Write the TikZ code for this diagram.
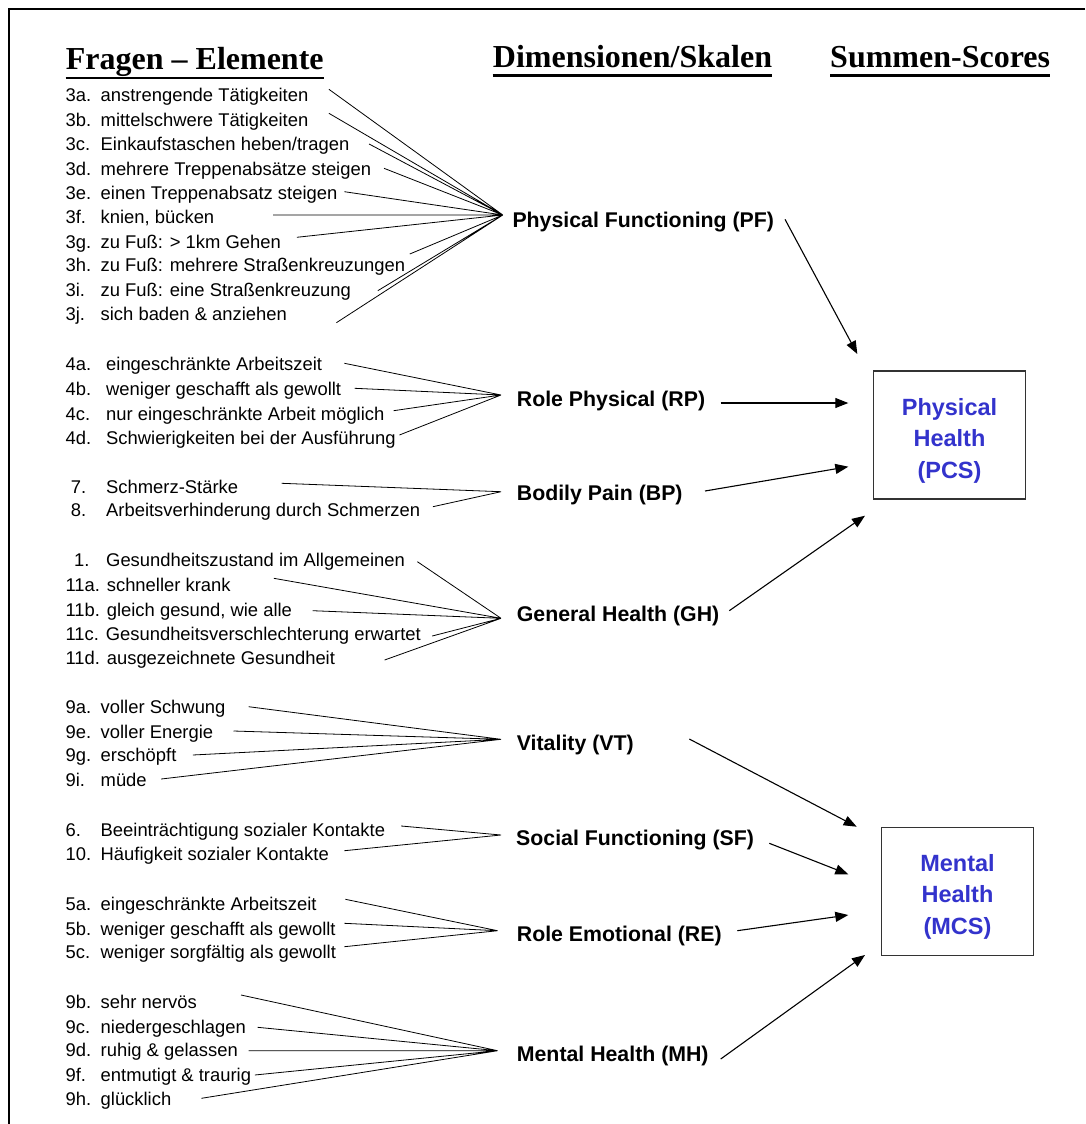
\documentclass[tikz,border=0pt]{standalone}
\usepackage{fontspec}
\setmainfont{Liberation Sans}
\newfontfamily\headfont{Liberation Serif}
\usetikzlibrary{arrows.meta}
\definecolor{scoreblue}{RGB}{51,51,204}
\newcommand{\nr}[2][35.1pt]{\makebox[#1][l]{#2}}

\begin{document}
\begin{tikzpicture}[x=1pt,y=-1pt,
		item/.style={anchor=base west,inner sep=0pt,font=\fontsize{18.4}{22}\selectfont},
		dim/.style={anchor=base west,inner sep=0pt,font=\bfseries\fontsize{21.3}{25}\selectfont},
		head/.style={anchor=base west,inner sep=0pt,font=\headfont\bfseries\fontsize{32}{36}\selectfont},
		uline/.style={line width=2.4pt},
		sumbox/.style={draw=black!80,line width=1.2pt,minimum width=152.4pt,minimum height=128pt,
			inner sep=0pt,align=center,text=scoreblue,font=\bfseries\fontsize{23.5}{31.5}\selectfont},
		iline/.style={line width=0.8pt},
		marrow/.style={-{Triangle[length=13pt,width=10pt]},line width=1.1pt}]
		\useasboundingbox (0,0) rectangle (1085,1124);
		% frame
		\draw[line width=2pt] (1085,9) -- (9,9) -- (9,1124);

		% headings
		\node[head] (fe) at (65.7,69.5) {Fragen – Elemente};
		\node[head] (ds) at (492.7,67) {Dimensionen/Skalen};
		\node[head] (ss) at (830,67) {Summen-Scores};
		\draw[uline] ([yshift=-8.5pt]fe.base west) -- ([yshift=-8.5pt]fe.base east);
		\draw[uline] ([yshift=-8.5pt]ds.base west) -- ([yshift=-8.5pt]ds.base east);
		\draw[uline] ([yshift=-8.5pt]ss.base west) -- ([yshift=-8.5pt]ss.base east);

		% physical functioning
		\node[item] (q3a) at (65.4,101.7) {\nr{3a.}anstrengende Tätigkeiten};
		\node[item] (q3b) at (65.4,126) {\nr{3b.}mittelschwere Tätigkeiten};
		\node[item] (q3c) at (65.4,150.7) {\nr{3c.}Einkaufstaschen heben/tragen};
		\node[item] (q3d) at (65.4,175) {\nr{3d.}mehrere Treppenabsätze steigen};
		\node[item] (q3e) at (65.4,199.3) {\nr{3e.}einen Treppenabsatz steigen};
		\node[item] (q3f) at (65.4,223.3) {\nr{3f.}knien, bücken};
		\node[item] (q3g) at (65.4,248.3) {\nr{3g.}zu Fuß: > 1km Gehen};
		\node[item] (q3h) at (65.4,271.7) {\nr{3h.}zu Fuß: mehrere Straßenkreuzungen};
		\node[item] (q3i) at (65.4,296.7) {\nr{3i.}zu Fuß: eine Straßenkreuzung};
		\node[item] (q3j) at (65.4,320.7) {\nr{3j.}sich baden \& anziehen};
		\node[dim] (pf) at (512.3,227.7) {Physical Functioning (PF)};

		% role physical
		\node[item] (q4a) at (65.4,370) {\nr[40.6pt]{4a.}eingeschränkte Arbeitszeit};
		\node[item] (q4b) at (65.4,395) {\nr[40.6pt]{4b.}weniger geschafft als gewollt};
		\node[item] (q4c) at (65.4,420) {\nr[40.6pt]{4c.}nur eingeschränkte Arbeit möglich};
		\node[item] (q4d) at (65.4,444) {\nr[40.6pt]{4d.}Schwierigkeiten bei der Ausführung};
		\node[dim] (rp) at (516.7,406) {Role Physical (RP)};

		% bodily pain
		\node[item] (q7) at (70.6,493.3) {\nr[35.4pt]{7.}Schmerz-Stärke};
		\node[item] (q8) at (70.6,516.7) {\nr[35.4pt]{8.}Arbeitsverhinderung durch Schmerzen};
		\node[dim] (bp) at (516.7,500) {Bodily Pain (BP)};

		% general health
		\node[item] (q1) at (74,566.7) {\nr[32pt]{1.}Gesundheitszustand im Allgemeinen};
		\node[item] (q11a) at (65.4,591.7) {11a. schneller krank};
		\node[item] (q11b) at (65.4,616) {11b. gleich gesund, wie alle};
		\node[item] (q11c) at (65.4,640) {11c. Gesundheitsverschlechterung erwartet};
		\node[item] (q11d) at (65.4,664) {11d. ausgezeichnete Gesundheit};
		\node[dim] (gh) at (516.7,621.7) {General Health (GH)};

		% vitality
		\node[item] (q9a) at (65.4,713.3) {\nr{9a.}voller Schwung};
		\node[item] (q9e) at (65.4,738.3) {\nr{9e.}voller Energie};
		\node[item] (q9g) at (65.4,761.7) {\nr{9g.}erschöpft};
		\node[item] (q9i) at (65.4,786.7) {\nr{9i.}müde};
		\node[dim] (vt) at (516.7,750) {Vitality (VT)};

		% social functioning
		\node[item] (q6) at (65.4,836.7) {\nr{6.}Beeinträchtigung sozialer Kontakte};
		\node[item] (q10) at (65.4,860) {\nr{10.}Häufigkeit sozialer Kontakte};
		\node[dim] (sf) at (516,845) {Social Functioning (SF)};

		% role emotional
		\node[item] (q5a) at (65.4,910) {\nr{5a.}eingeschränkte Arbeitszeit};
		\node[item] (q5b) at (65.4,935) {\nr{5b.}weniger geschafft als gewollt};
		\node[item] (q5c) at (65.4,958.3) {\nr{5c.}weniger sorgfältig als gewollt};
		\node[dim] (re) at (516.7,941.7) {Role Emotional (RE)};

		% mental health
		\node[item] (q9b) at (65.4,1008.3) {\nr{9b.}sehr nervös};
		\node[item] (q9c) at (65.4,1033.3) {\nr{9c.}niedergeschlagen};
		\node[item] (q9d) at (65.4,1056.7) {\nr{9d.}ruhig \& gelassen};
		\node[item] (q9f) at (65.4,1081.7) {\nr{9f.}entmutigt \& traurig};
		\node[item] (q9h) at (65.4,1105) {\nr{9h.}glücklich};
		\node[dim] (mh) at (516.7,1061.7) {Mental Health (MH)};

		% summary scores
		\node[sumbox] (pcs) at (949.5,435) {\rule{0pt}{28pt}Physical\\Health\\(PCS)};
		\node[sumbox] (mcs) at (957.5,891.2) {\rule{0pt}{28pt}Mental\\Health\\(MCS)};

		% line ends
		\path (502.8,215) coordinate (pfin) (501,395) coordinate (rpin)
			(501,491.7) coordinate (bpin) (501,618.3) coordinate (ghin)
			(501,739.3) coordinate (vtin) (501,835) coordinate (sfin)
			(497.6,930.7) coordinate (rein) (497.6,1050.7) coordinate (mhin);
		\path (328.9,89.3) coordinate (a3a) (328.9,113.3) coordinate (a3b)
			(369.1,144) coordinate (a3c) (384,168.3) coordinate (a3d)
			(344.4,191.7) coordinate (a3e) (273.1,215) coordinate (a3f)
			(296.8,237.3) coordinate (a3g) (409.8,254) coordinate (a3h)
			(377.8,290.7) coordinate (a3i) (336.4,322.7) coordinate (a3j);
		\path (344.4,363.3) coordinate (a4a) (354.7,388.3) coordinate (a4b)
			(393.6,410.7) coordinate (a4c) (399.4,435) coordinate (a4d)
			(281.7,483.3) coordinate (a7) (432.9,506.7) coordinate (a8);
		\path (417.4,561.7) coordinate (a1) (273.8,578.3) coordinate (a11a)
			(312.7,610.7) coordinate (a11b) (432.2,636) coordinate (a11c)
			(384.6,660) coordinate (a11d);
		\path (248.6,706.7) coordinate (a9a) (233.5,731) coordinate (a9e)
			(192.8,755) coordinate (a9g) (161.2,779) coordinate (a9i)
			(401.2,826) coordinate (a6) (344.4,850.7) coordinate (a10);
		\path (345.4,899.3) coordinate (a5a) (344.4,923.3) coordinate (a5b)
			(344.4,946.7) coordinate (a5c);
		\path (241,995) coordinate (a9b) (257.6,1027.3) coordinate (a9c)
			(248.6,1050.7) coordinate (a9d) (254.8,1075) coordinate (a9f)
			(201.4,1098.3) coordinate (a9h);

		% connection items - scales
		\draw[iline] (a3a) -- (pfin) (a3b) -- (pfin) (a3c) -- (pfin) (a3d) -- (pfin)
			(a3e) -- (pfin) (a3f) -- (pfin) (a3g) -- (pfin) (a3h) -- (pfin)
			(a3i) -- (pfin) (a3j) -- (pfin);
		\draw[iline] (a4a) -- (rpin) (a4b) -- (rpin) (a4c) -- (rpin) (a4d) -- (rpin);
		\draw[iline] (a7) -- (bpin) (a8) -- (bpin);
		\draw[iline] (a1) -- (ghin) (a11a) -- (ghin) (a11b) -- (ghin) (a11c) -- (ghin) (a11d) -- (ghin);
		\draw[iline] (a9a) -- (vtin) (a9e) -- (vtin) (a9g) -- (vtin) (a9i) -- (vtin);
		\draw[iline] (a6) -- (sfin) (a10) -- (sfin);
		\draw[iline] (a5a) -- (rein) (a5b) -- (rein) (a5c) -- (rein);
		\draw[iline] (a9b) -- (mhin) (a9c) -- (mhin) (a9d) -- (mhin) (a9f) -- (mhin) (a9h) -- (mhin);

		% connection scales - scores
		\path (785,219.3) coordinate (pfout) (720.7,403) coordinate (rpout)
			(705,491) coordinate (bpout) (729.3,610.7) coordinate (ghout)
			(689.3,739) coordinate (vtout) (769.3,843.3) coordinate (sfout)
			(737.3,930.7) coordinate (reout) (720.7,1059) coordinate (mhout);
		\path (857.3,354) coordinate (pcs1) (848.3,403) coordinate (pcs2)
			(848.3,466.7) coordinate (pcs3) (865,515.7) coordinate (pcs4)
			(856.7,826.7) coordinate (mcs1) (848.3,874.3) coordinate (mcs2)
			(848.3,915) coordinate (mcs3) (865,955) coordinate (mcs4);
		\draw[marrow] (pfout) -- (pcs1);
		\draw[marrow] (rpout) -- (pcs2);
		\draw[marrow] (bpout) -- (pcs3);
		\draw[marrow] (ghout) -- (pcs4);
		\draw[marrow] (vtout) -- (mcs1);
		\draw[marrow] (sfout) -- (mcs2);
		\draw[marrow] (reout) -- (mcs3);
		\draw[marrow] (mhout) -- (mcs4);
	\end{tikzpicture}
\end{document}
